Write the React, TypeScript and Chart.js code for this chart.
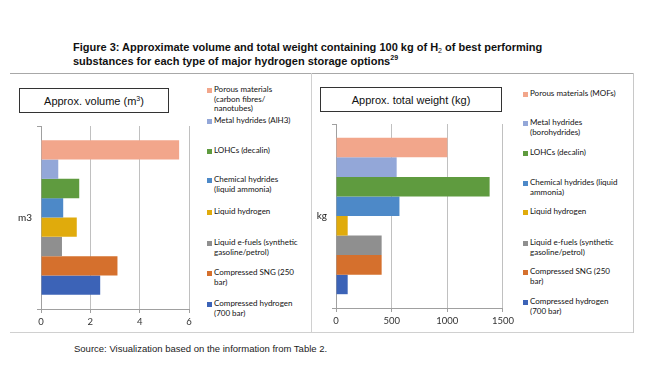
import React, { useEffect, useRef } from "react";
import { Chart, registerables } from "chart.js";

Chart.register(...registerables);

const seriesNamesVolume = [
  ["Porous materials", "(carbon fibres/", "nanotubes)"],
  ["Metal hydrides (AlH3)"],
  ["LOHCs (decalin)"],
  ["Chemical hydrides", "(liquid ammonia)"],
  ["Liquid hydrogen"],
  ["Liquid e-fuels (synthetic", "gasoline/petrol)"],
  ["Compressed SNG (250", "bar)"],
  ["Compressed hydrogen", "(700 bar)"],
];
const seriesNamesWeight = [
  ["Porous materials (MOFs)"],
  ["Metal hydrides", "(borohydrides)"],
  ["LOHCs (decalin)"],
  ["Chemical hydrides (liquid", "ammonia)"],
  ["Liquid hydrogen"],
  ["Liquid e-fuels (synthetic", "gasoline/petrol)"],
  ["Compressed SNG (250", "bar)"],
  ["Compressed hydrogen", "(700 bar)"],
];
const seriesColors = [
  "#F2A68B",
  "#93A7D8",
  "#5F9B3F",
  "#4D89C8",
  "#E0AB0C",
  "#8F8F8F",
  "#D5702D",
  "#3C63B7",
];
const volumeCategory = ["m3"];
const weightCategory = ["kg"];
const volumeValues = [5.6, 0.7, 1.55, 0.9, 1.45, 0.85, 3.1, 2.4];
const weightValues = [1000, 545, 1380, 570, 105, 410, 410, 105];
const volumeTicks = [0, 2, 4, 6];
const weightTicks = [0, 500, 1000, 1500];
const legendLineTopsVolume = [90, 121, 151, 180, 212, 243, 273, 304];
const legendLineTopsWeight = [94, 123, 153, 183, 212, 243, 272, 302];

const FONT = "Lato, 'Open Sans', sans-serif";

function BarChart(props: {
  category: string[];
  values: number[];
  ticks: number[];
  names: string[][];
  yWidth: number;
  catPct: number;
  width: number;
  height: number;
}) {
  const ref = useRef<HTMLCanvasElement | null>(null);
  useEffect(() => {
    if (!ref.current) return;
    const max = props.ticks[props.ticks.length - 1];
    const chart = new Chart(ref.current, {
      type: "bar",
      data: {
        labels: props.category,
        datasets: props.values.map((v, i) => ({
          label: props.names[i].join(" "),
          data: [v],
          backgroundColor: seriesColors[i],
          borderWidth: 0,
          barPercentage: 1,
          categoryPercentage: props.catPct,
        })),
      },
      options: {
        indexAxis: "y",
        animation: false,
        responsive: false,
        maintainAspectRatio: false,
        layout: { padding: { top: 10, right: 12, left: 0, bottom: 0 } },
        plugins: { legend: { display: false }, tooltip: { enabled: false } },
        scales: {
          x: {
            min: 0,
            max: max,
            afterBuildTicks: (scale: any) => {
              scale.ticks = props.ticks.map((t) => ({ value: t }));
            },
            afterFit: (scale: any) => {
              scale.height = 22;
            },
            grid: {
              color: "#C0C0C0",
              lineWidth: 1,
              drawTicks: true,
              tickLength: 4,
              tickColor: "#A0A0A0",
            },
            border: { display: true, color: "#A0A0A0" },
            ticks: {
              color: "#333333",
              font: { family: FONT, size: 9.5 },
              padding: 3,
              maxRotation: 0,
              callback: (v: any) => String(v),
            },
          },
          y: {
            afterFit: (scale: any) => {
              scale.width = props.yWidth;
            },
            grid: {
              drawOnChartArea: false,
              drawTicks: true,
              tickLength: 4,
              offset: true,
              tickColor: "#A0A0A0",
            },
            border: { display: true, color: "#A0A0A0" },
            ticks: {
              color: "#222222",
              font: { family: FONT, size: 10 },
              padding: 5,
            },
          },
        },
      },
    });
    return () => chart.destroy();
  }, []);
  return (
    <canvas
      ref={ref}
      width={props.width}
      height={props.height}
      style={{ width: props.width, height: props.height, display: "block" }}
    />
  );
}

function Legend(props: { names: string[][]; tops: number[]; left: number }) {
  return (
    <>
      {props.names.map((lines, i) => (
        <div
          key={i}
          style={{
            position: "absolute",
            left: props.left,
            top: props.tops[i] - 5,
            fontFamily: FONT,
            fontSize: 8,
            lineHeight: "9.5px",
            color: "#111",
            whiteSpace: "nowrap",
          }}
        >
          <span
            style={{
              position: "absolute",
              left: -7,
              top: 2.5,
              width: 5,
              height: 5,
              background: seriesColors[i],
            }}
          />
          {lines.map((l, j) => (
            <div key={j}>{l}</div>
          ))}
        </div>
      ))}
    </>
  );
}

function Box(props: { left: number; top: number; width: number; height: number; children: any }) {
  return (
    <div
      style={{
        position: "absolute",
        left: props.left,
        top: props.top,
        width: props.width,
        height: props.height,
        border: "1px solid #333",
        boxSizing: "border-box",
        display: "flex",
        alignItems: "center",
        justifyContent: "center",
        fontFamily: "'Liberation Sans', Arial, sans-serif",
        fontSize: 11,
        color: "#111",
        background: "#fff",
      }}
    >
      {props.children}
    </div>
  );
}

function Line(props: { left: number; top: number; width: number; height: number; color: string }) {
  return (
    <div
      style={{
        position: "absolute",
        left: props.left,
        top: props.top,
        width: props.width,
        height: props.height,
        background: props.color,
      }}
    />
  );
}

export default function App() {
  return (
    <div
      style={{
        position: "absolute",
        left: 0,
        top: 0,
        width: 650,
        height: 390,
        background: "#fff",
        overflow: "hidden",
      }}
    >
      <div
        style={{
          position: "absolute",
          left: 73,
          top: 40,
          fontFamily: "'Liberation Sans', Arial, sans-serif",
          fontWeight: "bold",
          fontSize: 11,
          lineHeight: "14px",
          color: "#111",
          whiteSpace: "nowrap",
        }}
      >
        <div style={{ height: 14 }}>
          Figure 3: Approximate volume and total weight containing 100 kg of H
          <span style={{ fontSize: 7, fontWeight: "normal", position: "relative", top: 2, lineHeight: 0 }}>2</span> of best performing
        </div>
        <div style={{ height: 14 }}>
          substances for each type of major hydrogen storage options
          <span style={{ fontSize: 7, position: "relative", top: -5, lineHeight: 0 }}>29</span>
        </div>
      </div>

      <Line left={10} top={73} width={624} height={1} color="#A8A8A8" />
      <Line left={10} top={332} width={624} height={1} color="#D0D0D0" />
      <Line left={311} top={73} width={1} height={260} color="#D0D0D0" />
      <Line left={633} top={73} width={1} height={260} color="#C8C8C8" />

      <Box left={19} top={88} width={150} height={25}>
        <span>
          Approx. volume (m<span style={{ fontSize: 7, position: "relative", top: -4, lineHeight: 0 }}>3</span>)
        </span>
      </Box>
      <Box left={320} top={87} width={182} height={25}>
        <span>Approx. total weight (kg)</span>
      </Box>

      <div style={{ position: "absolute", left: 10, top: 115 }}>
        <BarChart
          category={volumeCategory}
          values={volumeValues}
          ticks={volumeTicks}
          names={seriesNamesVolume}
          yWidth={31}
          catPct={0.845}
          width={191}
          height={216}
        />
      </div>
      <div style={{ position: "absolute", left: 312, top: 113 }}>
        <BarChart
          category={weightCategory}
          values={weightValues}
          ticks={weightTicks}
          names={seriesNamesWeight}
          yWidth={24}
          catPct={0.85}
          width={205}
          height={217}
        />
      </div>

      <Legend names={seriesNamesVolume} tops={legendLineTopsVolume} left={214} />
      <Legend names={seriesNamesWeight} tops={legendLineTopsWeight} left={530} />

      <div
        style={{
          position: "absolute",
          left: 74,
          top: 343,
          fontFamily: "'Liberation Sans', Arial, sans-serif",
          fontSize: 9.5,
          color: "#222",
          whiteSpace: "nowrap",
        }}
      >
        Source: Visualization based on the information from Table 2.
      </div>
    </div>
  );
}
